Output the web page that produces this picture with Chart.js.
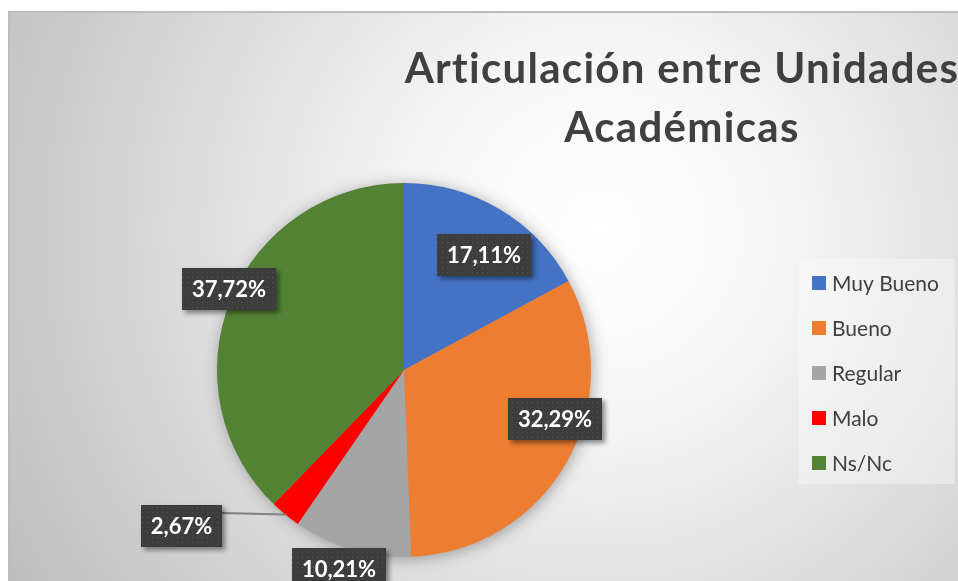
<!DOCTYPE html>
<html>
<head>
<meta charset="utf-8">
<title>Articulación entre Unidades Académicas</title>
<script src="https://cdn.jsdelivr.net/npm/chart.js"></script>
<style>
  html, body { margin: 0; padding: 0; background: #fff; }
  canvas { display: block; }
</style>
</head>
<body>
<canvas id="pieChart" width="958" height="581"></canvas>
<script>
// Survey result: rating of the coordination between academic units (%)
const categories = ['Muy Bueno', 'Bueno', 'Regular', 'Malo', 'Ns/Nc'];
const percentages = [17.11, 32.29, 10.21, 2.67, 37.72];
const sliceColors = ['#4472C4', '#ED7D31', '#A5A5A5', '#FF0000', '#548235'];
const titleLines = ['Articulación entre Unidades', 'Académicas'];

// where each value box sits, relative to its slice (angle shift in degrees, radius factor)
const labelPlacement = [
    { shift: 4, factor: 0.75 },
    { shift: -11.7, factor: 0.85 },
    { shift: 1.8, factor: 1.12 },
    { shift: 15.6, factor: 1.45, leader: true },
    { shift: 2.7, factor: 1.03 }
];

const fmt = v => v.toFixed(2).replace('.', ',') + '%';

// dotted dark fill used behind the value labels
function makeDotPattern(ctx) {
    const c = document.createElement('canvas');
    c.width = 5; c.height = 5;
    const p = c.getContext('2d');
    p.fillStyle = '#3d3d3d';
    p.fillRect(0, 0, 5, 5);
    p.fillStyle = '#565656';
    p.fillRect(2, 2, 1, 1);
    return ctx.createPattern(c, 'repeat');
}

const backgroundPlugin = {
    id: 'background',
    beforeDraw(chart) {
        const ctx = chart.ctx;
        const w = chart.width, h = chart.height;
        ctx.save();
        ctx.fillStyle = '#ffffff';
        ctx.fillRect(0, 0, w, h);
        const g = ctx.createRadialGradient(600, 230, 0, 600, 230, 700);
        g.addColorStop(0, '#ffffff');
        g.addColorStop(0.25, '#f6f6f6');
        g.addColorStop(1, '#bcbcbc');
        ctx.fillStyle = g;
        ctx.fillRect(9, 12, w - 9, h - 12);
        ctx.strokeStyle = '#bdbdbd';
        ctx.lineWidth = 2;
        ctx.beginPath();
        ctx.moveTo(9, h);
        ctx.lineTo(9, 12);
        ctx.lineTo(w, 12);
        ctx.stroke();

        // title
        ctx.fillStyle = '#404040';
        ctx.font = 'bold 42px Lato, "Noto Sans", sans-serif';
        ctx.letterSpacing = '1.3px';
        ctx.textAlign = 'center';
        ctx.textBaseline = 'alphabetic';
        ctx.fillText(titleLines[0], 682, 83);
        ctx.fillText(titleLines[1], 682, 142);
        ctx.letterSpacing = '0px';

        // legend
        const lx = 799, ly = 259, lw = 156, lh = 225;
        ctx.fillStyle = 'rgba(255,255,255,0.35)';
        ctx.fillRect(lx, ly, lw, lh);
        ctx.font = '21px Lato, "Noto Sans", sans-serif';
        ctx.textAlign = 'left';
        ctx.textBaseline = 'middle';
        categories.forEach((name, i) => {
            const cy = 283 + i * 45;
            ctx.fillStyle = sliceColors[i];
            ctx.fillRect(812, cy - 7, 14, 14);
            ctx.fillStyle = '#404040';
            ctx.fillText(name, 832, cy + 1);
        });
        ctx.restore();
    },
    beforeDatasetsDraw(chart) {
        // soft shadow under the whole pie
        const arc = chart.getDatasetMeta(0).data[0];
        if (!arc) return;
        const ctx = chart.ctx;
        ctx.save();
        ctx.shadowColor = 'rgba(0,0,0,0.35)';
        ctx.shadowBlur = 16;
        ctx.shadowOffsetX = 2;
        ctx.shadowOffsetY = 2;
        ctx.fillStyle = '#999';
        ctx.beginPath();
        ctx.arc(arc.x, arc.y, arc.outerRadius - 1, 0, Math.PI * 2);
        ctx.fill();
        ctx.restore();
    }
};

const valueLabelPlugin = {
    id: 'valueLabels',
    afterDatasetsDraw(chart) {
        const ctx = chart.ctx;
        const meta = chart.getDatasetMeta(0);
        const pattern = makeDotPattern(ctx);
        const values = chart.data.datasets[0].data;
        ctx.save();
        ctx.font = 'bold 22px Lato, "Noto Sans", sans-serif';
        meta.data.forEach((arc, i) => {
            const pl = labelPlacement[i];
            const mid = (arc.startAngle + arc.endAngle) / 2;
            const a = mid + pl.shift * Math.PI / 180;
            const cx = arc.x + Math.cos(a) * arc.outerRadius * pl.factor;
            const cy = arc.y + Math.sin(a) * arc.outerRadius * pl.factor;
            const text = fmt(values[i]);
            const bw = Math.round(ctx.measureText(text).width) + 20;
            const bh = 42;
            const bx = Math.round(cx - bw / 2), by = Math.round(cy - bh / 2);

            if (pl.leader) {
                ctx.strokeStyle = '#7f7f7f';
                ctx.lineWidth = 2;
                ctx.beginPath();
                ctx.moveTo(bx + bw, by + 8);
                ctx.lineTo(arc.x + Math.cos(mid) * arc.outerRadius, arc.y + Math.sin(mid) * arc.outerRadius);
                ctx.stroke();
            }

            ctx.save();
            ctx.shadowColor = 'rgba(0,0,0,0.45)';
            ctx.shadowBlur = 5;
            ctx.shadowOffsetX = 3;
            ctx.shadowOffsetY = 3;
            ctx.fillStyle = pattern;
            ctx.fillRect(bx, by, bw, bh);
            ctx.restore();

            ctx.fillStyle = '#ffffff';
            ctx.textAlign = 'center';
            ctx.textBaseline = 'middle';
            ctx.fillText(text, bx + bw / 2, by + bh / 2 + 1);
        });
        ctx.restore();
    }
};

new Chart(document.getElementById('pieChart').getContext('2d'), {
    type: 'pie',
    data: {
        labels: categories,
        datasets: [{
            data: percentages,
            backgroundColor: sliceColors,
            borderWidth: 0
        }]
    },
    options: {
        responsive: false,
        animation: false,
        layout: { padding: { top: 183, bottom: 24, left: 0, right: 150 } },
        plugins: {
            legend: { display: false },
            title: { display: false },
            tooltip: { enabled: false }
        }
    },
    plugins: [backgroundPlugin, valueLabelPlugin]
});
</script>
</body>
</html>
